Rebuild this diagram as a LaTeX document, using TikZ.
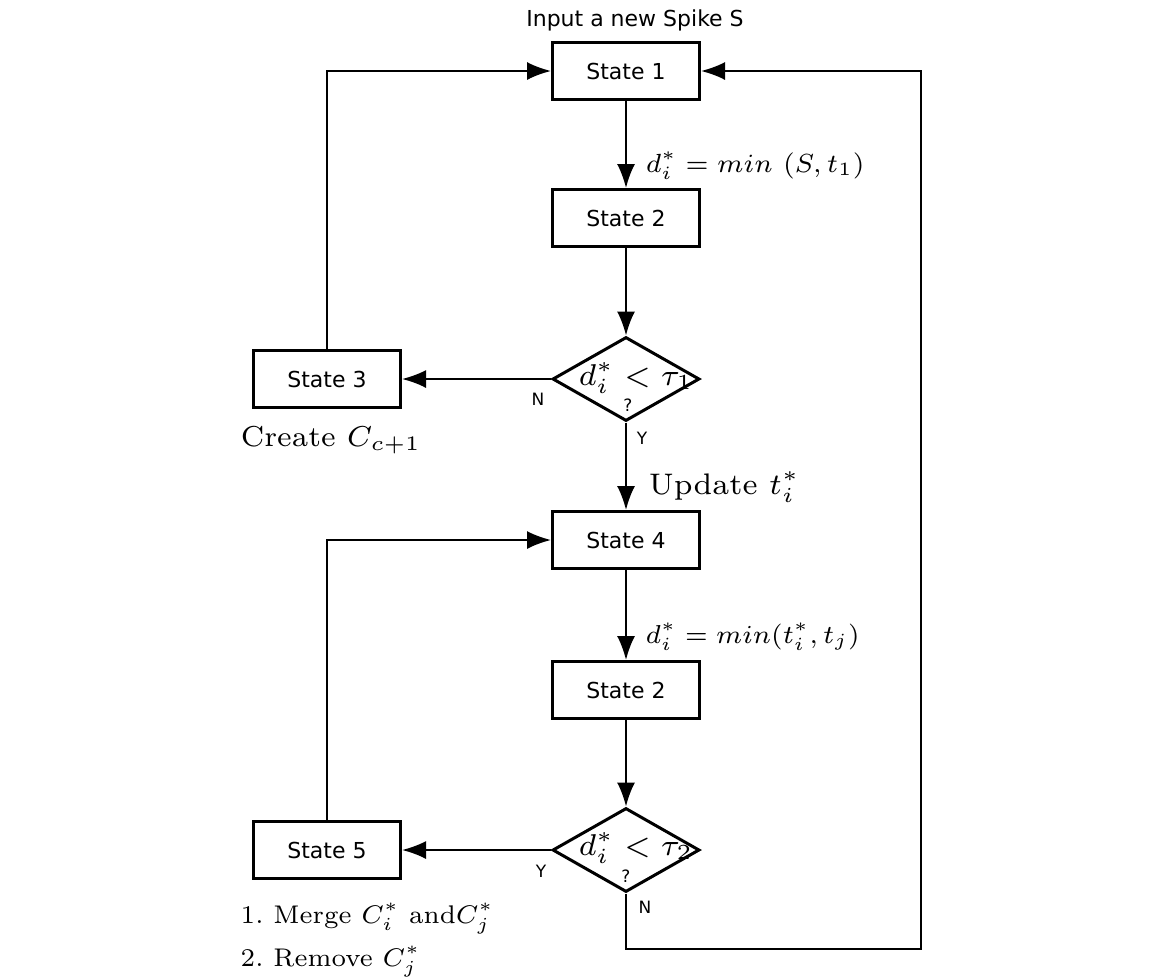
\documentclass[tikz,border=0pt]{standalone}
\usepackage{fontspec}
\newfontfamily\sansf{DejaVu Sans}
\usetikzlibrary{shapes.geometric,arrows.meta}
\begin{document}
\begin{tikzpicture}[x=1pt,y=-1pt,
  box/.style={draw, line width=3pt, minimum width=147pt, minimum height=57pt, inner sep=0pt, font=\sansf\fontsize{22}{26}\selectfont},
  dia/.style={draw, diamond, line width=3pt, minimum width=147pt, minimum height=84pt, inner sep=0pt},
  conn/.style={line width=2pt, -{Latex[length=24pt,width=18pt]}},
  sanst/.style={font=\sansf\fontsize{22}{26}\selectfont, inner sep=0pt},
  smallt/.style={font=\sansf\fontsize{17}{20}\selectfont, inner sep=0pt},
  mth/.style={scale=#1, font=\fontsize{7}{8.4}\selectfont, inner sep=0pt},
  mth/.default=4.2
]
\useasboundingbox (0,0) rectangle (1151,978);

\node[box] (s1) at (626,71) {State 1};
\node[box] (s2) at (626,218) {State 2};
\node[dia] (d1) at (626,379) {};
\node[box] (s3) at (327,379) {State 3};
\node[box] (s4) at (626,540) {State 4};
\node[box] (s2b) at (626,690) {State 2};
\node[dia] (d2) at (626,850) {};
\node[box] (s5) at (327,850) {State 5};
\coordinate (r1) at (921,949);

\node[sanst] (inp) at (635,20) {Input a new Spike S};
\node[mth=3.75, anchor=base west] (l1) at (645,172) {$d_i^*=min\ (S,t_1)$};
\node[mth=4.3, anchor=base] (c1) at (636,385) {$d_i^*<\tau_1$};
\node[smallt] (q1) at (628,405) {?};
\node[smallt] (n1) at (538,399) {N};
\node[smallt] (y1) at (642,438) {Y};
\node[mth=4.12, anchor=base west] (cr) at (240,446) {Create $C_{c+1}$};
\node[mth=4.25, anchor=base west] (up) at (648,494) {Update $t_i^*$};
\node[mth=3.7, anchor=base west] (l2) at (645,643) {$d_i^*=min(t_i^*,t_j)$};
\node[mth=4.3, anchor=base] (c2) at (636,855) {$d_i^*<\tau_2$};
\node[smallt] (q2) at (626,876) {?};
\node[smallt] (y2) at (541,871) {Y};
\node[smallt] (n2) at (645,907) {N};
\node[mth=3.65, anchor=base west] (m1) at (240,923) {1.\ Merge $C_i^*$ and$C_j^*$};
\node[mth=3.65, anchor=base west] (m2) at (240,966) {2.\ Remove $C_j^*$};

\draw[conn] (s1) -- (s2);
\draw[conn] (s2) -- (d1);
\draw[conn] (d1) -- (s3);
\draw[conn] (d1) -- (s4);
\draw[conn] (s3.north) |- (s1.west);
\draw[conn] (s4) -- (s2b);
\draw[conn] (s2b) -- (d2);
\draw[conn] (d2) -- (s5);
\draw[conn] (s5.north) |- (s4.west);
\draw[conn] (d2.south) |- (r1) |- (s1.east);
\end{tikzpicture}
\end{document}
